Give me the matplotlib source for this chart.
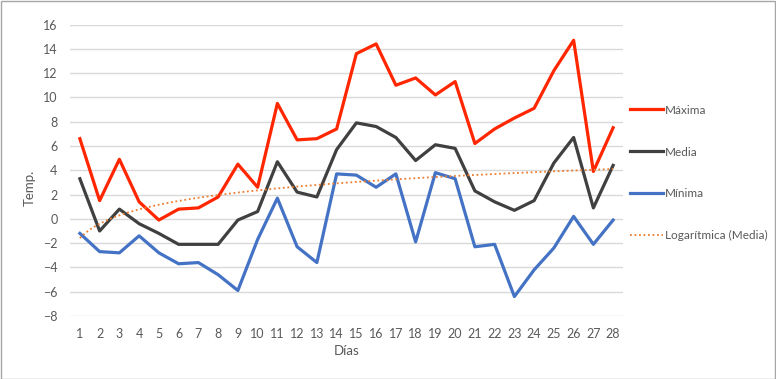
import numpy as np
import matplotlib
matplotlib.use("Agg")
import matplotlib.pyplot as plt
from matplotlib.patches import Rectangle

# Datos
dias = list(range(1, 29))
maxima = [6.6, 1.5, 4.9, 1.4, -0.1, 0.8, 0.9, 1.8, 4.5, 2.6, 9.5, 6.5, 6.6, 7.4,
          13.6, 14.4, 11.0, 11.6, 10.2, 11.3, 6.2, 7.4, 8.3, 9.1, 12.2, 14.7, 3.9, 7.5]
media = [3.3, -1.0, 0.8, -0.4, -1.2, -2.1, -2.1, -2.1, -0.1, 0.6, 4.7, 2.2, 1.8, 5.7,
         7.9, 7.6, 6.7, 4.8, 6.1, 5.8, 2.3, 1.4, 0.7, 1.5, 4.6, 6.7, 0.9, 4.4]
minima = [-1.2, -2.7, -2.8, -1.4, -2.8, -3.7, -3.6, -4.6, -5.9, -1.7, 1.7, -2.3, -3.6, 3.7,
          3.6, 2.6, 3.7, -1.9, 3.8, 3.3, -2.3, -2.1, -6.4, -4.2, -2.4, 0.2, -2.1, -0.1]
y_ticks = list(range(-8, 17, 2))

plt.rcParams['font.family'] = ['Lato', 'DejaVu Sans']
gris = '#595959'

fig = plt.figure(figsize=(7.76, 3.79), dpi=100)
W, H = 776, 379
ax = fig.add_axes([70 / W, (H - 316) / H, 553 / W, 291.5 / H])

ax.plot(dias, maxima, color='#FF2600', lw=2.3, label='Máxima', solid_joinstyle='round')
ax.plot(dias, media, color='#404040', lw=2.3, label='Media', solid_joinstyle='round')
ax.plot(dias, minima, color='#4472C4', lw=2.3, label='Mínima', solid_joinstyle='round')

# línea de tendencia logarítmica de la media
a, b = np.polyfit(np.log(dias), media, 1)
xt = np.linspace(1, 28, 200)
ax.plot(xt, a * np.log(xt) + b, color='#ED7D31', lw=1.3, ls=(0, (1, 1.5)),
        label='Logarítmica (Media)')

ax.set_xlim(0.5, 28.5)
ax.set_ylim(-8, 16)
ax.set_xticks(dias)
ax.set_yticks(y_ticks)
ax.grid(axis='y', color='#d9d9d9', lw=1)
ax.set_axisbelow(True)
for s in ax.spines.values():
    s.set_visible(False)
ax.tick_params(length=0, colors=gris, labelsize=9, pad=9)
ax.tick_params(axis='y', pad=9)

fig.text(30 / W, 1 - 188 / H, 'Temp.', rotation=90, ha='center', va='center',
         color=gris, fontsize=9.5)
fig.text(347 / W, 1 - 351 / H, 'Días', ha='center', va='center', color=gris, fontsize=9.5)

leg = fig.legend(loc='upper left', bbox_to_anchor=(619 / W, 1 - 94 / H), frameon=False,
                 fontsize=8.5, labelspacing=2.62, handlelength=2.8, handletextpad=0.2)
for t in leg.get_texts():
    t.set_color(gris)

fig.add_artist(Rectangle((0.5 / W, 0.5 / H), 1 - 1.5 / W, 1 - 1.5 / H, transform=fig.transFigure,
                         fill=False, edgecolor='#a6a6a6', lw=1))

fig.savefig('out.png', dpi=100)
